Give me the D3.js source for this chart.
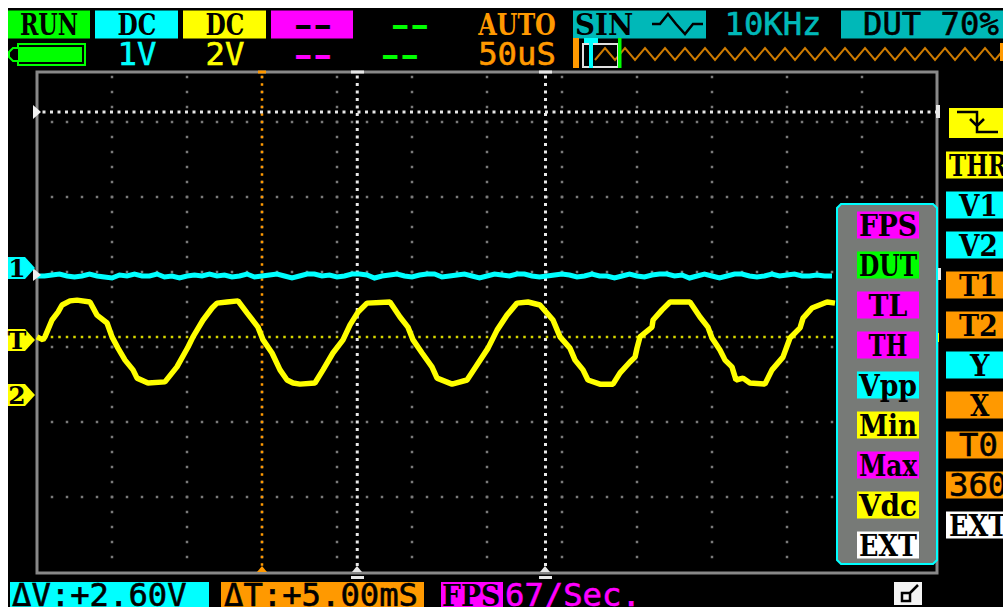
<!DOCTYPE html>
<html>
<head>
<meta charset="utf-8">
<script src="https://cdn.jsdelivr.net/npm/d3@7/dist/d3.min.js"></script>
<style>
html, body { margin: 0; padding: 0; background: #fff; overflow: hidden; }
svg { display: block; }
text { font-family: "DejaVu Serif", "Liberation Mono", monospace; font-weight: bold; font-size: 29px; }
text.mono { font-family: "DejaVu Sans Mono", monospace; font-weight: normal; font-size: 32px; stroke-width: 0.6px; }
</style>
</head>
<body>
<div id="chart"></div>
<script>
// channel B (yellow) trace: time in uS, level in V
const ch2Times = [0,4,5.3,10,14,16.7,22,26.7,35.3,40,46.7,50,54,58.7,64,66.7,74,85.3,93.3,100.7,104,110.7,116.7,120,126.7,134,140,147.3,150.7,156.7,162,166.7,170.7,175.3,185.3,190.7,197.3,204,208.7,214,220,235.3,242,247.3,250.7,256.7,263.3,266.7,276.7,286.7,293.3,300.7,306.7,313.3,320,327.3,335.3,344,348.7,355.3,358.7,364,367.3,375.3,384,388.7,395.3,398.7,400,402,410,410.7,416.7,422,435.3,442,447.3,450,455.3,458.7,463.3,466,470.7,475.3,485.3,490,497.3,502,508.7,510.7,516.7,526.7,532];
const ch2Volts = [1.55,1.47,1.55,2.0,2.21,2.4,2.51,2.53,2.48,2.13,1.92,1.55,1.25,0.93,0.67,0.45,0.32,0.35,0.75,1.28,1.55,2.0,2.32,2.45,2.48,2.51,2.19,1.81,1.47,1.12,0.67,0.4,0.32,0.29,0.32,0.67,1.12,1.47,1.87,2.21,2.45,2.48,2.08,1.81,1.47,1.12,0.75,0.45,0.29,0.4,0.8,1.25,1.73,2.13,2.45,2.48,2.4,2.0,1.55,1.25,0.93,0.67,0.4,0.29,0.29,0.59,0.88,1.01,1.25,1.55,1.81,2.0,2.27,2.48,2.48,2.08,1.81,1.52,1.2,0.93,0.75,0.4,0.45,0.32,0.29,0.67,1.01,1.52,1.79,2.05,2.32,2.48,2.45];

// channel A (cyan) trace, one reading every 5 uS, in mV
const ch1Step = 5;
const ch1Millivolts = [-53,-53,-40,-27,-53,-67,-53,-27,-53,-67,-80,-40,-53,-27,-53,-53,-27,-67,-53,-80,-53,-40,-53,-27,-53,-40,-67,-53,-27,-67,-53,-40,-27,-53,-80,-53,-27,-27,-53,-40,-67,-53,-27,-27,-40,-80,-53,-40,-27,-53,-67,-40,-27,-27,-67,-53,-40,-27,-53,-80,-53,-27,-40,-53,-27,-27,-53,-67,-53,-40,-27,-40,-67,-53,-27,-53,-53,-80,-53,-27,-53,-67,-40,-27,-27,-53,-40,-80,-53,-27,-53,-80,-53,-27,-27,-53,-67,-53,-27,-53,-40,-27,-53,-53,-40,-53,-53];

// the overview strip along the top of the screen, 1 = peak, 0 = trough
const overviewLevels = [0,1,0,1,0,1,0,1,0,1,0,1,0,1,0,1,0,1,0,1,0,1,0,1,0,1,0,1,0,1,0,1,0,1,0,1,0,1,0,1,0,1,0];

const sideLabels = ['THR', 'V1', 'V2', 'T1', 'T2', 'Y', 'X', 'T0', '360', 'EXT'];
const measureLabels = ['FPS', 'DUT', 'TL', 'TH', 'Vpp', 'Min', 'Max', 'Vdc', 'EXT'];

// these read better in the plain mono face, they have the slashed zero or no serifs
const monoLabels = ['1V', '2V', '50uS', '10KHz', 'DUT 70%', 'T0', '360', '\u0394V:+2.60V', '\u0394T:+5.00mS', '67/Sec.'];

const C = { cyan: '#00ffff', yellow: '#ffff00', magenta: '#ff00ff', green: '#00ff00', orange: '#ff9900',
            teal: '#00b8b8', white: '#ffffff', grey: '#888888', panel: '#777a77' };
const sideColors = [C.yellow, C.cyan, C.cyan, C.orange, C.orange, C.cyan, C.orange, C.orange, C.orange, C.white];
const measureColors = [C.magenta, C.green, C.magenta, C.magenta, C.cyan, C.yellow, C.magenta, C.yellow, C.white];

const width = 1003, height = 607;
const frame = { l: 37, r: 937, t: 72, b: 573 };

const svg = d3.select('#chart').append('svg').attr('width', width).attr('height', height);
svg.append('rect').attr('x', 8).attr('y', 8).attr('width', width - 8).attr('height', height - 8).attr('fill', '#000');

// 50uS per division, 75 px per division
const scaleT = d3.scaleLinear().domain([0, 600]).range([frame.l, frame.r]);
const scaleCh1 = d3.scaleLinear().domain([0, 1]).range([272, 197]);  // 1V/div
const scaleCh2 = d3.scaleLinear().domain([0, 2]).range([395, 320]);  // 2V/div

function box(x, y, w, h, fill) {
    return svg.append('rect').attr('x', x).attr('y', y).attr('width', w).attr('height', h).attr('fill', fill);
}

function label(x, y, txt, fill, anchor) {
    return svg.append('text').attr('x', x).attr('y', y).attr('fill', fill)
        .classed('mono', monoLabels.includes(txt))
        .attr('stroke', monoLabels.includes(txt) ? fill : 'none')
        .attr('text-anchor', anchor || 'middle')
        .attr('textLength', txt.length * 19.4)
        .attr('lengthAdjust', 'spacingAndGlyphs')
        .text(txt);
}

function dots(xs, ys, fill, size) {
    const pts = d3.cross(xs, ys);
    svg.append('g').selectAll('rect').data(pts).join('rect')
        .attr('x', d => d[0] - size / 2)
        .attr('y', d => d[1] - size / 2)
        .attr('width', size).attr('height', size)
        .attr('fill', fill);
}

// ---- graticule
const gridXs = d3.range(1, 12).map(i => scaleT(i * 50));
dots(gridXs, d3.range(77, 572, 15), '#7a7a7a', 2.5);
dots(d3.range(52, 937, 15), d3.range(122, 500, 75), '#7a7a7a', 2.5);

svg.append('path')
    .attr('d', `M${frame.l},${frame.t}H${frame.r}V${frame.b}H${frame.l}Z`)
    .attr('fill', 'none').attr('stroke', C.grey).attr('stroke-width', 3);

// ---- cursors
dots([scaleT(150)], d3.range(77, 572, 7.5), C.orange, 2.5);
dots([scaleT(213.5), scaleT(339)], d3.range(77, 572, 7.5), '#e8e8e8', 3);
dots(d3.range(44, 937, 7.5), [112], '#e8e8e8', 3);
dots(d3.range(52, 836, 7.5), [337], '#d8d800', 2.5);

// ---- traces
const lineCh1 = d3.line().x((d, i) => scaleT(i * ch1Step)).y(d => scaleCh1(d / 1000));
svg.append('path').datum(ch1Millivolts).attr('d', lineCh1)
    .attr('fill', 'none').attr('stroke', C.cyan).attr('stroke-width', 5);

const lineCh2 = d3.line().x(d => scaleT(d[0])).y(d => scaleCh2(d[1]));
svg.append('path').datum(d3.zip(ch2Times, ch2Volts)).attr('d', lineCh2)
    .attr('fill', 'none').attr('stroke', C.yellow).attr('stroke-width', 5.5).attr('stroke-linejoin', 'bevel');

// ---- frame markers
box(258, 70.5, 8, 3, C.orange);
box(351, 70.5, 13, 3, '#e8e8e8');
box(539, 70.5, 13, 3, '#e8e8e8');
box(936, 105, 4, 13, '#e8e8e8');
box(936, 268, 5, 12, '#e8e8e8');
box(936, 333, 3, 9, C.yellow);
svg.append('path').attr('d', 'M33,105L41,112L33,119Z').attr('fill', '#f0f0f0');
svg.append('path').attr('d', 'M33,268L41,275L33,281Z').attr('fill', '#f0f0f0');
[[262, C.orange], [357, '#e8e8e8'], [545, '#e8e8e8']].forEach(d => {
    svg.append('path').attr('d', `M${d[0] - 5},572L${d[0]},566L${d[0] + 5},572Z`).attr('fill', d[1]);
});
box(351, 576, 13, 3, '#e8e8e8');
box(539, 576, 13, 3, '#e8e8e8');

// ---- channel tags on the left edge
[['1', C.cyan, 268], ['T', C.yellow, 340], ['2', C.yellow, 395]].forEach(d => {
    svg.append('path')
        .attr('d', `M8,${d[2] - 11}H25L35,${d[2]}L25,${d[2] + 11}H8Z`)
        .attr('fill', d[1]);
    svg.append('text').attr('x', 17).attr('y', d[2] + 9).attr('text-anchor', 'middle')
        .attr('fill', '#000').style('font-size', '25px').text(d[0]);
});

// ---- top status bar
const topY = 35, subY = 65;
box(8, 10.5, 82, 28, C.green); label(49, topY, 'RUN', '#000');
box(95, 10.5, 83, 28, C.cyan); label(137, topY, 'DC', '#000');
box(183, 10.5, 83, 28, C.yellow); label(225, topY, 'DC', '#000');
box(271, 10.5, 82, 28, C.magenta); label(313, topY, '--', '#000');
label(410, topY, '--', C.green);
label(137, subY, '1V', C.cyan);
label(225, subY, '2V', C.yellow);
label(313, subY, '--', C.magenta);
label(400, subY, '--', C.green);
label(517, topY, 'AUTO', C.orange);
label(517, subY, '50uS', C.orange);

// battery
svg.append('path').attr('d', 'M18,44H85V65H18V61L13,61L9,57V52L13,48L18,48Z')
    .attr('fill', 'none').attr('stroke', C.green).attr('stroke-width', 2);
box(18, 47, 64, 15, C.green);

box(573, 10.5, 133, 28, C.teal);
label(575, topY, 'SIN', '#000', 'start');
svg.append('path').attr('d', 'M652,24H660L668,14L676,24L685,34L693,24H703')
    .attr('fill', 'none').attr('stroke', '#000').attr('stroke-width', 2.5);
label(773, topY, '10KHz', C.teal);
box(841, 10.5, 162, 28, C.teal);
label(863, topY, 'DUT 70%', '#000', 'start');

// overview strip
const scaleOverviewX = d3.scaleLinear().domain([0, overviewLevels.length - 1]).range([595, 1015]);
const scaleOverviewY = d3.scaleLinear().domain([0, 1]).range([60, 48]);
svg.append('path').datum(overviewLevels)
    .attr('d', d3.line().x((d, i) => scaleOverviewX(i)).y(d => scaleOverviewY(d)))
    .attr('fill', 'none').attr('stroke', '#cc7a00').attr('stroke-width', 2);
box(573, 38, 6, 30, C.orange);
box(1000, 43, 3, 18, C.orange);
svg.append('rect').attr('x', 583).attr('y', 44).attr('width', 35).attr('height', 23)
    .attr('fill', 'none').attr('stroke', '#e0e0e0').attr('stroke-width', 2);
box(584, 38, 14, 5, C.cyan);
box(589, 38, 4, 30, C.cyan);
box(618, 38, 3.5, 30, C.green);

// ---- side buttons
const scaleSide = d3.scalePoint().domain(d3.range(sideLabels.length)).range([165, 525]);
svg.append('g').selectAll('rect').data(sideLabels).join('rect')
    .attr('x', 946).attr('y', (d, i) => scaleSide(i) - 13.5)
    .attr('width', 60).attr('height', 27)
    .attr('fill', (d, i) => sideColors[i]);
sideLabels.forEach((d, i) => {
    label(949, scaleSide(i) + 11, d, '#000', 'start')
        .attr('x', d.length === 1 ? 970 : (d.length === 2 ? 959 : 949));
});
box(949, 108, 54, 30, C.yellow);
svg.append('path').attr('d', 'M957,112H977V132H998M970,119L977,126L984,119M977,117V128')
    .attr('fill', 'none').attr('stroke', '#000').attr('stroke-width', 2.5);

// ---- measurement menu
svg.append('path')
    .attr('d', 'M841,204H933L937,208V560L933,564H841L837,560V208Z')
    .attr('fill', C.panel).attr('stroke', C.cyan).attr('stroke-width', 2);
const scaleMeasure = d3.scalePoint().domain(d3.range(measureLabels.length)).range([225, 545]);
svg.append('g').selectAll('rect').data(measureLabels).join('rect')
    .attr('x', 857).attr('y', (d, i) => scaleMeasure(i) - 13.5)
    .attr('width', 62).attr('height', 27)
    .attr('fill', (d, i) => measureColors[i]);
measureLabels.forEach((d, i) => {
    label(888, scaleMeasure(i) + 11, d, '#000');
});

// ---- bottom status bar
const botY = 606;
box(10, 582, 199, 25, C.cyan);
label(12, botY, '\u0394V:+2.60V', '#000', 'start');
box(221, 582, 203, 25, C.orange);
label(224, botY, '\u0394T:+5.00mS', '#000', 'start');
box(441, 582, 62, 25, C.magenta);
label(442, botY, 'FPS', '#000', 'start');
label(505, botY, '67/Sec.', C.magenta, 'start');
box(894, 582, 28, 23, '#f4f4f4');
svg.append('path').attr('d', 'M902,593H910V601H902ZM910,593L918,585')
    .attr('fill', 'none').attr('stroke', '#000').attr('stroke-width', 2.5);
</script>
</body>
</html>
